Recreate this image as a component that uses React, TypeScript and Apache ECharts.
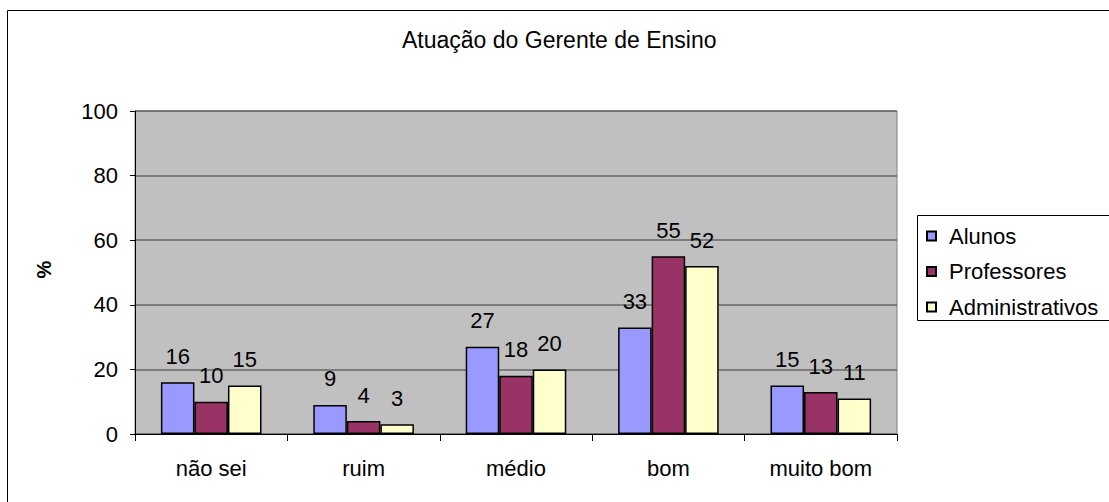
import React, { useEffect, useRef } from "react";
import * as echarts from "echarts";

const categories = ["não sei", "ruim", "médio", "bom", "muito bom"];
const alunos = [16, 9, 27, 33, 15];
const professores = [10, 4, 18, 55, 13];
const administrativos = [15, 3, 20, 52, 11];
const seriesNames = ["Alunos", "Professores", "Administrativos"];
const colors = ["#9999FF", "#993366", "#FFFFCC"];

const FONT = "'Liberation Sans', Arial, sans-serif";

export default function App() {
  const ref = useRef<HTMLDivElement>(null);
  useEffect(() => {
    if (!ref.current) return;
    const chart = echarts.init(ref.current, undefined, { renderer: "svg" });
    const data = [alunos, professores, administrativos];
    chart.setOption({
      animation: false,
      backgroundColor: "#ffffff",
      textStyle: { fontFamily: FONT },
      title: {
        text: "Atuação do Gerente de Ensino",
        left: 397,
        top: 23,
        textStyle: { fontSize: 23, fontWeight: "normal", color: "#000", fontFamily: FONT },
      },
      graphic: [
        {
          type: "rect",
          z: -10,
          shape: { x: 7.5, y: 10.5, width: 1200, height: 600 },
          style: { fill: "none", stroke: "#000", lineWidth: 1 },
          silent: true,
        },
        {
          type: "rect",
          z: 1,
          shape: { x: 917.5, y: 215.5, width: 300, height: 105 },
          style: { fill: "#fff", stroke: "#000", lineWidth: 1 },
          silent: true,
        },
      ],
      legend: {
        orient: "vertical",
        left: 921,
        top: 220,
        itemWidth: 9,
        itemHeight: 9,
        itemGap: 13.5,
        icon: "rect",
        z: 5,
        textStyle: { fontSize: 22, color: "#000", fontFamily: FONT, padding: [0, 0, 0, 8] },
        data: seriesNames,
      },
      grid: {
        left: 135,
        right: 212,
        top: 111,
        bottom: 68,
        show: true,
        backgroundColor: "#C0C0C0",
        borderColor: "#808080",
        borderWidth: 1,
      },
      xAxis: {
        type: "category",
        data: categories,
        axisLine: { lineStyle: { color: "#000", width: 1 } },
        axisTick: { show: true, length: 7, lineStyle: { color: "#000" } },
        axisLabel: { fontSize: 22, color: "#000", margin: 23, fontFamily: FONT },
      },
      yAxis: {
        type: "value",
        min: 0,
        max: 100,
        interval: 20,
        name: "%",
        nameLocation: "middle",
        nameGap: 81,
        nameTextStyle: { fontSize: 20, fontWeight: "bold", color: "#000", fontFamily: FONT, padding: [0, 0, 0, 6] },
        axisLine: { show: true, lineStyle: { color: "#000", width: 1 } },
        axisTick: { show: true, length: 5, lineStyle: { color: "#000" } },
        axisLabel: { fontSize: 22, color: "#000", margin: 17, fontFamily: FONT },
        splitLine: { show: true, lineStyle: { color: "#666666", width: 1.5 } },
      },
      series: seriesNames.map((name, i) => ({
        name,
        type: "bar",
        data: data[i],
        barGap: "0%",
        barCategoryGap: "34%",
        itemStyle: { color: colors[i], borderColor: "#000", borderWidth: 1.5 },
        label: {
          show: true,
          position: "top",
          distance: 15,
          fontSize: 22,
          color: "#000",
          fontFamily: FONT,
        },
      })),
    });
    return () => chart.dispose();
  }, []);
  return (
    <div
      ref={ref}
      style={{ position: "absolute", left: 0, top: 0, width: 1109, height: 502 }}
    />
  );
}
